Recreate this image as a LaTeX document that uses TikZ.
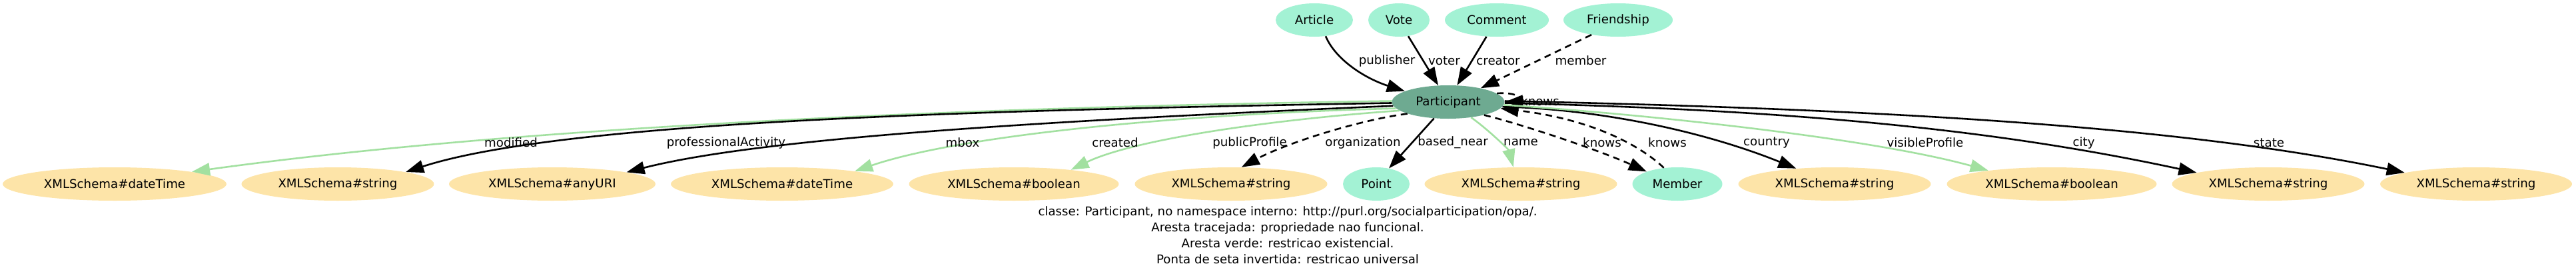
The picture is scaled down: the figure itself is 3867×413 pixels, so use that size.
\documentclass[tikz,border=0pt]{standalone}
\usepackage{fontspec}
\setmainfont{DejaVu Sans}
\usetikzlibrary{shapes.geometric,arrows.meta}
\definecolor{mainfill}{HTML}{6EAA91}
\definecolor{clsfill}{HTML}{A3F2D4}
\definecolor{xsdfill}{HTML}{FDE4A8}
\definecolor{greenedge}{HTML}{A2E0A0}
\newcommand{\lab}{\fontsize{9.1}{11}\selectfont}
\tikzset{
  base/.style={ellipse, inner sep=0pt, minimum height=25pt, font=\lab},
  cls/.style={base, fill=clsfill},
  xsd/.style={base, fill=xsdfill},
  mainnode/.style={base, fill=mainfill},
  e/.style={line width=1.3pt, -{Triangle[length=13.5pt,width=9.5pt]}},
  eg/.style={e, draw=greenedge},
  ed/.style={e, dash pattern=on 5pt off 3.5pt},
  lbl/.style={font=\lab, inner sep=0pt},
}
\begin{document}
\begin{tikzpicture}[x=0.5pt,y=-0.5pt]
\useasboundingbox (0,0) rectangle (3867,413);
% top classes
\node[cls, minimum width=58pt] (art) at (1973,30) {Article};
\node[cls, minimum width=46pt] (vote) at (2100,30) {Vote};
\node[cls, minimum width=78pt] (com) at (2247,30) {Comment};
\node[cls, minimum width=82pt] (fr) at (2429,30) {Friendship};
% main
\node[mainnode, minimum width=84.5pt] (P) at (2174,153) {Participant};
% bottom row
\node[xsd, minimum width=168pt] (d1) at (172,276) {XMLSchema\#dateTime};
\node[xsd, minimum width=144.5pt] (s1) at (507,276) {XMLSchema\#string};
\node[xsd, minimum width=155pt] (u1) at (829,276) {XMLSchema\#anyURI};
\node[xsd, minimum width=167pt] (d2) at (1174,276) {XMLSchema\#dateTime};
\node[xsd, minimum width=157.5pt] (b1) at (1522,276) {XMLSchema\#boolean};
\node[xsd, minimum width=144.5pt] (s2) at (1848,276) {XMLSchema\#string};
\node[cls, minimum width=50pt] (pt) at (2066,276) {Point};
\node[xsd, minimum width=144.5pt] (s3) at (2283,276) {XMLSchema\#string};
\node[cls, minimum width=67.5pt] (mem) at (2518,276) {Member};
\node[xsd, minimum width=144.5pt] (s4) at (2754,276) {XMLSchema\#string};
\node[xsd, minimum width=157.5pt] (b2) at (3080,276) {XMLSchema\#boolean};
\node[xsd, minimum width=144.5pt] (s5) at (3405,276) {XMLSchema\#string};
\node[xsd, minimum width=144pt] (s6) at (3717,276) {XMLSchema\#string};
% top edges
\draw[e] (art.305) .. controls (2005,90) and (2050,118) .. (P.166);
\draw[e] (vote.300) -- (P.121);
\draw[e] (com.238) -- (P.62);
\draw[ed] (fr.209) -- (P.23);
\node[lbl] (lpub) at (2082,91) {publisher};
\node[lbl] (lvot) at (2168,91) {voter};
\node[lbl] (lcre) at (2249,91) {creator};
\node[lbl] (lmem) at (2373,91) {member};
% left edges
\draw[eg] (P.179) .. controls (1500,160) and (800,187) .. (d1.9);
\draw[e] (P.181) .. controls (1500,165) and (850,180) .. (s1.10);
\draw[e] (P.184) .. controls (1600,180) and (1150,205) .. (u1.9);
\draw[eg] (P.187) .. controls (1800,170) and (1450,200) .. (d2.10);
\draw[eg] (P.190) .. controls (1900,180) and (1700,210) .. (b1.14);
\draw[ed] (P.196) .. controls (2040,180) and (1930,215) .. (s2.58);
\draw[e] (P.229) -- (pt.51);
\draw[eg] (P.326) .. controls (2235,195) and (2265,225) .. (s3.114);
\draw[ed] (P.340) .. controls (2280,185) and (2400,225) .. (mem.158);
\draw[ed] (mem.130) .. controls (2470,225) and (2400,180) .. (P.353);
\draw[ed] (P.10) .. controls (2280,137) and (2290,152) .. (P.0);
% right edges
\draw[e] (P.355) .. controls (2380,163) and (2540,190) .. (s4.158);
\draw[eg] (P.357) .. controls (2450,170) and (2800,205) .. (b2.168);
\draw[e] (P.359) .. controls (2700,165) and (3000,195) .. (s5.171);
\draw[e] (P.1) .. controls (2900,165) and (3300,195) .. (s6.171);
% edge labels
\node[lbl] (l1) at (767,214) {modified};
\node[lbl] (l2) at (1090,214) {professionalActivity};
\node[lbl] (l3) at (1445,214) {mbox};
\node[lbl] (l4) at (1674,214) {created};
\node[lbl] (l5) at (1876,214) {publicProfile};
\node[lbl] (l6) at (2046,214) {organization};
\node[lbl] (l7) at (2181,214) {based\_near};
\node[lbl] (l8) at (2283,214) {name};
\node[lbl] (l9) at (2405,214) {knows};
\node[lbl] (l10) at (2503,214) {knows};
\node[lbl] (lloop) at (2312,152) {knows};
\node[lbl] (l11) at (2652,214) {country};
\node[lbl] (l12) at (2890,214) {visibleProfile};
\node[lbl] (l13) at (3128,214) {city};
\node[lbl] (l14) at (3406,214) {state};
% caption
\node[font=\fontsize{9.1}{12}\selectfont, align=center, inner sep=0pt] (cap) at (1933,353)
 {classe: Participant, no namespace interno: http://purl.org/socialparticipation/opa/.\\
  Aresta tracejada: propriedade nao funcional.\\
  Aresta verde: restricao existencial.\\
  Ponta de seta invertida: restricao universal};
\end{tikzpicture}
\end{document}
